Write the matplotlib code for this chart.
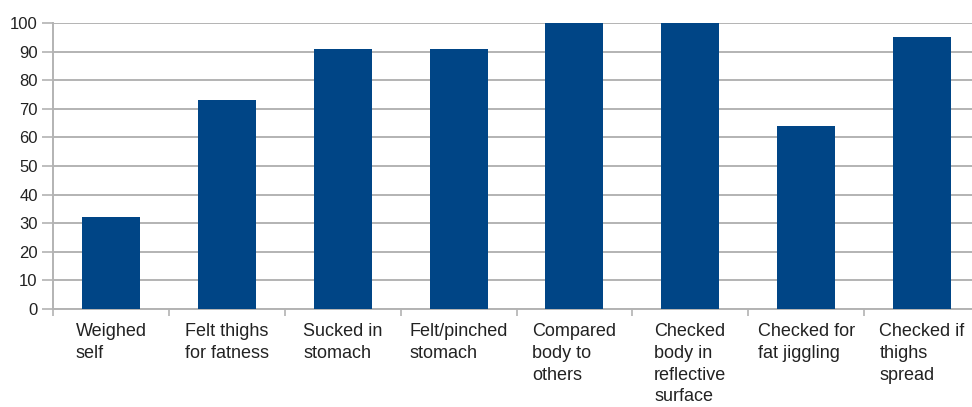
import matplotlib.pyplot as plt
import matplotlib.transforms as mtransforms
import numpy as np

plt.rcParams['font.family'] = ['Liberation Sans', 'DejaVu Sans']

categories = ["Weighed\nself", "Felt thighs\nfor fatness", "Sucked in\nstomach",
              "Felt/pinched\nstomach", "Compared\nbody to\nothers",
              "Checked\nbody in\nreflective\nsurface", "Checked for\nfat jiggling",
              "Checked if\nthighs\nspread"]
values = [32, 73, 91, 91, 100, 100, 64, 95]
yticks = list(range(0, 101, 10))

bar_color = "#004586"
grid_color = "#b3b3b3"
text_color = "#222222"

fig = plt.figure(figsize=(9.72, 4.07), dpi=100)
ax = fig.add_axes([53 / 972, 98 / 407, 927 / 972, 286 / 407])

x = np.arange(len(categories))
ax.bar(x, values, width=0.5, color=bar_color, zorder=3)

ax.set_xlim(-0.5, len(categories) - 0.5)
ax.set_ylim(0, 100)
ax.set_yticks(yticks)
ax.set_yticklabels([str(v) for v in yticks], fontsize=12, color=text_color)
ax.yaxis.grid(True, color=grid_color, linewidth=1.4, zorder=0)
ax.tick_params(axis='y', length=8, width=1.2, color=grid_color, pad=3)

# category boundaries get the tick marks, labels are placed separately
ax.set_xticks(np.arange(len(categories) + 1) - 0.5)
ax.set_xticklabels([])
ax.tick_params(axis='x', length=5, width=1.2, color=grid_color)

trans = mtransforms.blended_transform_factory(ax.transData, ax.transAxes)
for xi, label in zip(x, categories):
    ax.text(xi, -0.05, label, transform=trans, ha='center', va='top',
            multialignment='left', fontsize=13, color=text_color,
            linespacing=1.36)

for side in ['top', 'right']:
    ax.spines[side].set_visible(False)
for side in ['left', 'bottom']:
    ax.spines[side].set_color(grid_color)
    ax.spines[side].set_linewidth(1.4)

fig.savefig("out.png", dpi=100)
